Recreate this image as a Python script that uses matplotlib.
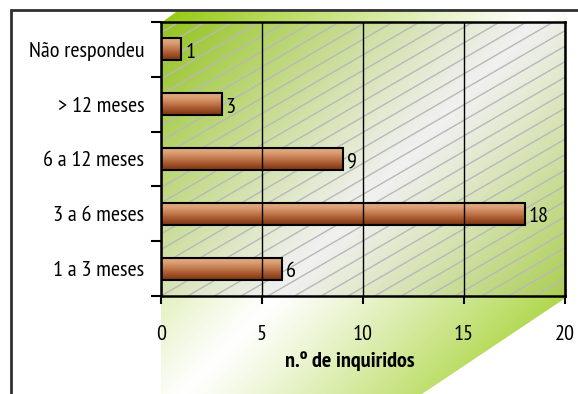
import numpy as np
import matplotlib
matplotlib.use('Agg')
import matplotlib.pyplot as plt
from matplotlib.patches import Polygon, Rectangle

# data (bottom to top, as matplotlib draws them)
categories = ['1 a 3 meses', '3 a 6 meses', '6 a 12 meses', '> 12 meses', 'Não respondeu']
values = [6, 18, 9, 3, 1]
x_ticks = [0, 5, 10, 15, 20]
x_label = 'n.º de inquiridos'

plt.rcParams['font.family'] = ['PT Sans Narrow', 'Archivo Narrow', 'Liberation Sans']
FS = 16

W, H = 578, 394
fig = plt.figure(figsize=(W / 100, H / 100), dpi=100)

# background layer in pixel coordinates
bg = fig.add_axes([0, 0, 1, 1], zorder=0)
bg.set_xlim(0, W)
bg.set_ylim(H, 0)
bg.axis('off')

# plot area position (pixels)
px0, px1, py0, py1 = 161, 565, 22, 296

# green gradient shape behind the plot
yy, xx = np.mgrid[0:H, 0:W] + 0.5
vx, vy = 406.0, 382.0
t = ((xx - 161) * vx + (yy - 12) * vy) / (vx ** 2 + vy ** 2)
g = np.clip(np.abs(t - 0.5) * 2, 0, 1) ** 1.1
green = np.array([0.58, 0.79, 0.05])
img = np.ones((H, W, 3)) * (1 - g[..., None]) + green * g[..., None]
im = bg.imshow(img, extent=[0, W, H, 0], origin='upper', interpolation='bilinear', zorder=0)
shape = Polygon([(161, 23), (176, 12), (567, 12), (567, 297), (422, 394), (161, 394)],
                closed=True, facecolor='none', edgecolor='none')
bg.add_patch(shape)
im.set_clip_path(shape)

# dotted texture + diagonal hatch inside plot area
plot_rect = Rectangle((px0, py0), px1 - px0, py1 - py0, facecolor='#7a7a7a', alpha=0.1,
                      edgecolor='none', zorder=1)
bg.add_patch(plot_rect)
slope = 0.58
for b in np.arange(py0 + slope * px0 - 5, py1 + slope * px1 + 15, 15.5):
    ln, = bg.plot([px0, px1], [b - slope * px0, b - slope * px1], color='#b8b8b8', lw=1.0, zorder=1)
    ln.set_clip_path(plot_rect)

# outer frame
bg.plot([11, 11, W + 5], [H + 5, 10, 10], color='#303030', lw=2, zorder=2, solid_joinstyle='miter')

# main axes
ax = fig.add_axes([px0 / W, 1 - py1 / H, (px1 - px0) / W, (py1 - py0) / H], zorder=1)
ax.set_facecolor('none')
ypos = np.arange(len(categories))
bars = ax.barh(ypos, values, height=0.4, color='#b5653a', edgecolor='none', zorder=2)

bar_grad = np.array([
    [0.88, 0.66, 0.51],
    [0.86, 0.62, 0.45],
    [0.81, 0.54, 0.37],
    [0.75, 0.46, 0.29],
    [0.68, 0.37, 0.21],
    [0.60, 0.30, 0.14],
    [0.52, 0.23, 0.09],
])
grad_img = bar_grad[:, None, :]
for p in bars:
    x0, y0, w, h = p.get_x(), p.get_y(), p.get_width(), p.get_height()
    gi = ax.imshow(grad_img, extent=[x0, x0 + w, y0, y0 + h], aspect='auto',
                   interpolation='bilinear', zorder=2.5)
    gi.set_clip_path(p)
ax.barh(ypos, values, height=0.4, fill=False, edgecolor='black', lw=1.5, zorder=3)

for p, v in zip(bars, values):
    ax.annotate(str(v), (p.get_x() + p.get_width(), p.get_y() + p.get_height() / 2),
                xytext=(4, -3), textcoords='offset pixels', ha='left', va='center', fontsize=FS)

ax.set_xlim(0, 20)
ax.set_ylim(-0.5, len(categories) - 0.5)
ax.set_xticks(x_ticks)
ax.set_xticklabels([str(v) for v in x_ticks], fontsize=FS)
ax.xaxis.grid(True, color='black', lw=1)
ax.set_axisbelow(False)
ax.tick_params(axis='x', direction='out', length=6, width=1.5, pad=15)

ax.set_yticks(np.arange(-0.5, len(categories), 1.0))
ax.set_yticklabels([])
ax.set_yticks(ypos, minor=True)
ax.set_yticklabels(categories, minor=True, fontsize=FS)
ax.tick_params(axis='y', which='major', direction='out', length=7, width=1.5)
ax.tick_params(axis='y', which='minor', length=0, pad=12)

for s in ax.spines.values():
    s.set_linewidth(1.8)
    s.set_color('black')

ax.set_xlabel(x_label, fontsize=FS, fontweight='bold')
ax.xaxis.set_label_coords(0.468, -0.2)

fig.savefig('out.png', dpi=100)
